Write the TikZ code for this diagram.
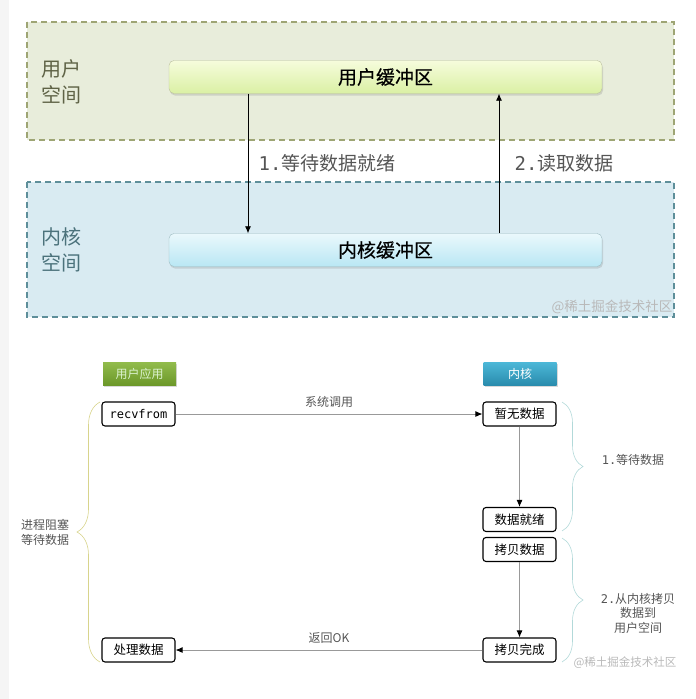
\documentclass[tikz,border=0pt]{standalone}
\usepackage{fontspec}
\setmainfont{Noto Sans CJK SC}
\newfontfamily\mono{DejaVu Sans Mono}
\newfontfamily\medcjk[FakeBold=0.4]{Noto Sans CJK SC}
\usetikzlibrary{arrows.meta,decorations.pathreplacing,shadows}

\definecolor{userbg}{HTML}{E8EDDB}
\definecolor{userln}{HTML}{9EA574}
\definecolor{kernbg}{HTML}{D9EBF2}
\definecolor{kernln}{HTML}{5E8F9A}
\definecolor{txtgray}{HTML}{555555}
\definecolor{ubuftop}{HTML}{F6FCDC}
\definecolor{ubufbot}{HTML}{DAF0A4}
\definecolor{kbuftop}{HTML}{EAF8FC}
\definecolor{kbufbot}{HTML}{B9E7F4}
\definecolor{apptop}{HTML}{92BC4C}
\definecolor{appbot}{HTML}{6C982A}
\definecolor{kerntop}{HTML}{4CB8D8}
\definecolor{kernbot}{HTML}{2A8CAD}

\tikzset{
  space/.style={draw,dashed,line width=1.3pt,dash pattern=on 6pt off 4pt},
  buffer/.style={rounded corners=5pt,minimum width=433pt,minimum height=33pt,
    inner sep=0pt,font=\medcjk\fontsize{19}{22}\selectfont,
    drop shadow={opacity=0.25,shadow xshift=1pt,shadow yshift=-2pt}},
  header/.style={minimum width=73pt,minimum height=23pt,inner sep=0pt,
    font=\fontsize{12}{14}\selectfont,
    drop shadow={opacity=0.3,shadow xshift=1pt,shadow yshift=-2pt}},
  stepbox/.style={draw,rounded corners=3pt,line width=1.1pt,fill=white,
    minimum width=73pt,minimum height=24pt,inner sep=0pt,
    font=\fontsize{12.5}{15}\selectfont},
  flow/.style={-{Latex[length=7pt,width=6pt]},line width=0.8pt},
  call/.style={-{Latex[length=7pt,width=6pt,color=black]},draw=gray!80,line width=0.9pt},
  brc/.style={decorate,line width=0.6pt},
  note/.style={text=txtgray,font=\fontsize{12}{15}\selectfont,align=center},
  wmark/.style={text=gray!55,font=\fontsize{11.5}{13}\selectfont}
}

\begin{document}
\begin{tikzpicture}[x=1pt,y=-1pt]
  \useasboundingbox (0,0) rectangle (696,699);
  \fill[gray!8] (0,0) rectangle (9,699);

  % user space / kernel space
  \filldraw[space,fill=userbg,draw=userln] (27,22) rectangle (674,140);
  \filldraw[space,fill=kernbg,draw=kernln] (27,182) rectangle (674,317);
  \node[align=left,text=userln!60!black,font=\fontsize{20}{26}\selectfont]
    (ulabel) at (61,82) {用户\\空间};
  \node[align=left,text=kernln!80!black,font=\fontsize{20}{26}\selectfont]
    (klabel) at (61,250) {内核\\空间};

  \node[buffer,draw=userln!70,top color=ubuftop,bottom color=ubufbot]
    (ubuf) at (385.5,77) {用户缓冲区};
  \node[buffer,draw=kernln!60,top color=kbuftop,bottom color=kbufbot]
    (kbuf) at (385.5,250) {内核缓冲区};

  \draw[flow] ([xshift=-137.5pt]ubuf.south) -- ([xshift=-137.5pt]kbuf.north)
    node[pos=0.5,right=7pt,text=txtgray,font=\fontsize{19}{22}\selectfont]
    (wait) {{\mono 1.}等待数据就绪};
  \draw[flow] ([xshift=113.5pt]kbuf.north) -- ([xshift=113.5pt]ubuf.south)
    node[pos=0.5,right=12pt,text=txtgray,font=\fontsize{19}{22}\selectfont]
    (read) {{\mono 2.}读取数据};
  \node[wmark,font=\fontsize{13.5}{15}\selectfont] (wm1) at (612,307) {@稀土掘金技术社区};

  % recvfrom sequence
  \node[header,top color=apptop,bottom color=appbot,text=green!10!white!90!olive]
    (app) at (139.5,373.5) {用户应用};
  \node[header,top color=kerntop,bottom color=kernbot,text=white]
    (kern) at (520,373.5) {内核};

  \node[stepbox,font=\mono\fontsize{12}{14}\selectfont] (recv) at (138.5,414) {recvfrom};
  \node[stepbox] (proc) at (138.5,650) {处理数据};
  \node[stepbox] (nodata) at (519.5,414) {暂无数据};
  \node[stepbox] (ready) at (519.5,519.5) {数据就绪};
  \node[stepbox] (copy) at (519.5,549.5) {拷贝数据};
  \node[stepbox] (done) at (519.5,650) {拷贝完成};

  \draw[call] (recv) -- node[above=3pt,note] (sys) {系统调用} (nodata);
  \draw[call] (nodata) -- (ready);
  \draw[call] (copy) -- (done);
  \draw[call] (done) -- node[above=3pt,note] (ret) {返回OK} (proc);

  \draw[brc,draw=olive!35,decoration={brace,amplitude=23pt}]
    (100,662) -- (100,402);
  \node[note] (block) at (45,532) {进程阻塞\\等待数据};
  \draw[brc,draw=teal!30,decoration={brace,amplitude=21pt}]
    (562,402) -- (562,531);
  \node[note] (phase1) at (633,460) {{\mono 1.}等待数据};
  \draw[brc,draw=teal!30,decoration={brace,amplitude=21pt}]
    (562,538) -- (562,662);
  \node[note,font=\fontsize{12}{14.5}\selectfont] (phase2) at (638,613)
    {{\mono 2.}从内核拷贝\\数据到\\用户空间};
  \node[wmark] (wm2) at (625,663) {@稀土掘金技术社区};
\end{tikzpicture}
\end{document}
